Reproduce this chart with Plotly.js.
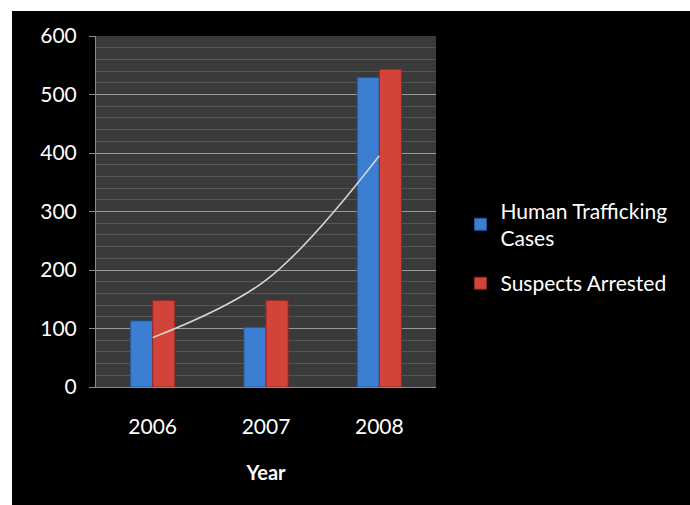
<!DOCTYPE html>
<html>
<head>
<meta charset="utf-8">
<script src="https://cdn.plot.ly/plotly-3.0.1.min.js"></script>
<style>
  html, body { margin: 0; padding: 0; background: #ffffff; width: 690px; height: 505px; overflow: hidden; }
  #chart { position: absolute; left: 12px; top: 11px; width: 678px; height: 494px; }
</style>
</head>
<body>
<div id="chart"></div>
<script>
// ---- data ----
var years = ['2006', '2007', '2008'];
var humanTraffickingCases = [113, 102, 529];
var suspectsArrested = [148, 148, 543];
var yTickValues = [0, 100, 200, 300, 400, 500, 600];

// category positions on the axis
var xPos = years.map(function (_, i) { return i; });

// exponential trendline (least squares on ln y) of the Human Trafficking Cases series
function expFit(xs, ys) {
  var n = xs.length, sx = 0, sy = 0, sxx = 0, sxy = 0;
  for (var i = 0; i < n; i++) {
    var ly = Math.log(ys[i]);
    sx += xs[i]; sy += ly; sxx += xs[i] * xs[i]; sxy += xs[i] * ly;
  }
  var b = (n * sxy - sx * sy) / (n * sxx - sx * sx);
  var a = (sy - b * sx) / n;
  return xs.map(function (x) { return Math.exp(a + b * x); });
}
var trendValues = expFit(xPos, humanTraffickingCases);

var font = 'Lato, "Open Sans", sans-serif';

var traces = [
  {
    type: 'bar', name: 'Human Trafficking<br>Cases', legendgroup: 'a',
    x: xPos, y: humanTraffickingCases,
    marker: { color: '#3b7ed2', line: { color: '#24569a', width: 1 } },
    hoverinfo: 'y'
  },
  {
    type: 'bar', name: 'Suspects Arrested', legendgroup: 'b',
    x: xPos, y: suspectsArrested,
    marker: { color: '#d4433a', line: { color: '#8f2a24', width: 1 } },
    hoverinfo: 'y'
  },
  {
    type: 'scatter', mode: 'lines', name: 'Trend',
    x: xPos, y: trendValues,
    line: { color: '#d8d8d8', width: 1.5, shape: 'spline', smoothing: 1 },
    showlegend: false, hoverinfo: 'skip'
  }
];

var layout = {
  width: 678, height: 494,
  margin: { l: 84, r: 254, t: 25, b: 118 },
  paper_bgcolor: '#000000',
  plot_bgcolor: '#3a3a3a',
  barmode: 'group',
  bargap: 0.61,
  bargroupgap: 0,
  font: { family: font, color: '#ffffff', size: 21 },
  xaxis: {
    range: [-0.5, 2.5],
    tickmode: 'array', tickvals: xPos, ticktext: years,
    showgrid: false, zeroline: false,
    showline: true, linecolor: '#8a8a8a', linewidth: 1,
    ticks: '', ticklabelstandoff: 21,
    tickfont: { family: font, size: 21, color: '#ffffff' },
    title: { text: '<b>Year</b>', standoff: 28, font: { family: font, size: 20, color: '#ffffff' } },
    fixedrange: true
  },
  yaxis: {
    range: [0, 600],
    tickmode: 'array', tickvals: yTickValues,
    showgrid: true, gridcolor: '#9a9a9a', gridwidth: 1,
    minor: { dtick: 20, showgrid: true, gridcolor: '#565656', gridwidth: 1, ticks: '' },
    zeroline: false,
    showline: true, linecolor: '#8a8a8a', linewidth: 1,
    ticks: 'outside', ticklen: 6, tickcolor: '#8a8a8a',
    ticklabelstandoff: 8,
    tickfont: { family: font, size: 21, color: '#ffffff' },
    fixedrange: true
  },
  legend: {
    x: 1.072, xanchor: 'left', y: 0.56, yanchor: 'top',
    bgcolor: 'rgba(0,0,0,0)',
    font: { family: font, size: 21, color: '#ffffff' },
    tracegroupgap: 15, itemwidth: 30
  },
  showlegend: true
};

Plotly.newPlot('chart', traces, layout, { displayModeBar: false, staticPlot: true });
</script>
</body>
</html>
